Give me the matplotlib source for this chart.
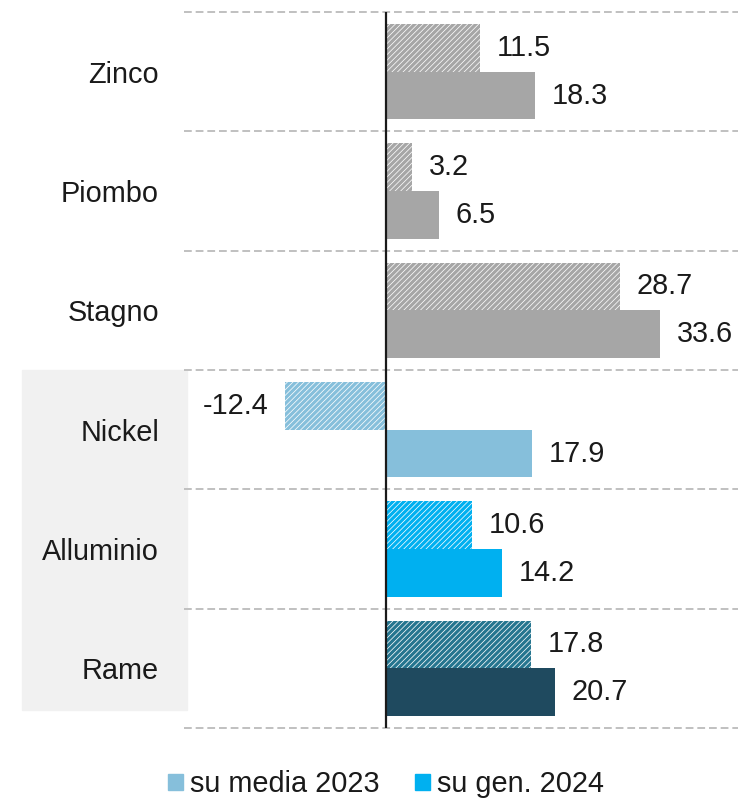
import numpy as np
import matplotlib
matplotlib.use('Agg')
import matplotlib.pyplot as plt
from matplotlib.patches import Rectangle

plt.rcParams['font.family'] = ['Liberation Sans', 'DejaVu Sans']
plt.rcParams['hatch.linewidth'] = 2.3

# data (top to bottom)
metals = ['Zinco', 'Piombo', 'Stagno', 'Nickel', 'Alluminio', 'Rame']
vs_avg_2023 = [11.5, 3.2, 28.7, -12.4, 10.6, 17.8]
vs_jan_2024 = [18.3, 6.5, 33.6, 17.9, 14.2, 20.7]
legend_labels = ['su media 2023', 'su gen. 2024']

solid_cols = ['#a6a6a6', '#a6a6a6', '#a6a6a6', '#86bfdb', '#00b0f0', '#1f4a5f']
hatch_cols = ['#a6a6a6', '#a6a6a6', '#a6a6a6', '#86bfdb', '#00b0f0', '#25758f']
txt = '#1a1a1a'
fs = 20.8

fig = plt.figure(figsize=(7.38, 7.98), dpi=100)
# grey panel behind the last three labels
fig.patches.append(Rectangle((22 / 738, 88 / 798), 165 / 738, 340 / 798,
                             transform=fig.transFigure, color='#f1f1f1', zorder=0))

ax = fig.add_axes([184 / 738, 70 / 798, 554 / 738, 716 / 798])
ax.set_zorder(2)
ax.patch.set_alpha(0)

y = np.arange(len(metals))
h = 0.4
for i in range(len(metals)):
    ax.barh(y[i] - h / 2, vs_avg_2023[i], height=h, color='white',
            edgecolor=hatch_cols[i], hatch='//////', linewidth=0, zorder=2)
    ax.barh(y[i] + h / 2, vs_jan_2024[i], height=h, color=solid_cols[i],
            linewidth=0, zorder=2)
    for v, yy in ((vs_avg_2023[i], y[i] - h / 2), (vs_jan_2024[i], y[i] + h / 2)):
        off = 12 if v >= 0 else -12
        ax.annotate(f'{v:.1f}', (v, yy), xytext=(off, 0), textcoords='offset points',
                    ha='left' if v >= 0 else 'right', va='center',
                    fontsize=fs, color=txt)

for b in np.arange(-0.5, len(metals), 1.0):
    ax.axhline(b, color='#c0c0c0', lw=1.4, ls=(0, (4, 2)), zorder=1, clip_on=False)
ax.axvline(0, color='#1a1a1a', lw=1.6, zorder=3)

ax.set_xlim(-24.8, 43.2)
ax.set_ylim(len(metals) - 0.5, -0.5)
ax.set_yticks(y)
ax.set_yticklabels(metals, fontsize=fs, color=txt)
ax.tick_params(axis='y', length=0, pad=18)
ax.set_xticks([])
for s in ax.spines.values():
    s.set_visible(False)

handles = [Rectangle((0, 0), 1, 1, color='#86bfdb'), Rectangle((0, 0), 1, 1, color='#00b0f0')]
fig.legend(handles, legend_labels, loc='center', bbox_to_anchor=(386 / 738, 14 / 798),
           ncol=2, frameon=False, fontsize=fs, handlelength=0.52, handleheight=0.5,
           handletextpad=0.25, columnspacing=1.2, labelcolor=txt, borderaxespad=0)

fig.savefig('out.png', dpi=100)
